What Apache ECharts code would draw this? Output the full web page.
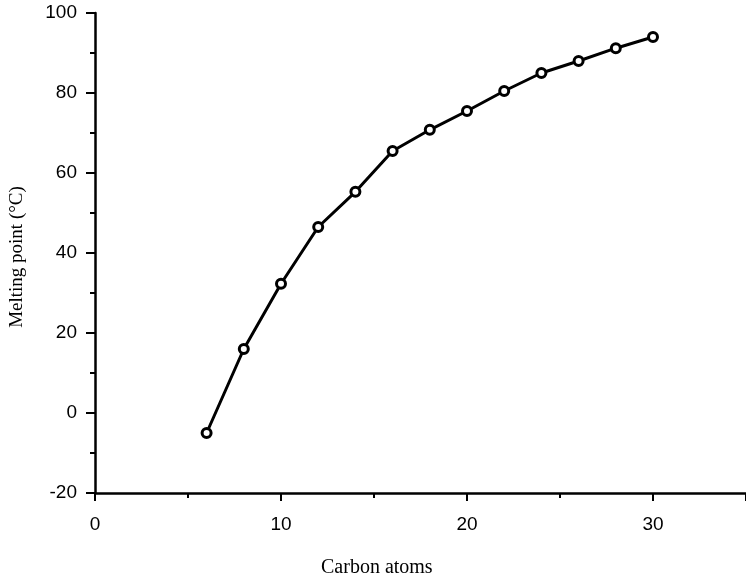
<!DOCTYPE html>
<html>
<head>
<meta charset="utf-8">
<script src="https://cdn.jsdelivr.net/npm/echarts@6/dist/echarts.min.js"></script>
<style>html,body{margin:0;padding:0;background:#fff}#c{width:746px;height:584px}</style>
</head>
<body>
<div id="c"></div>
<script>
const carbonAtoms = [6, 8, 10, 12, 14, 16, 18, 20, 22, 24, 26, 28, 30];
const meltingPoint = [-5, 16, 32.3, 46.5, 55.3, 65.5, 70.8, 75.5, 80.5, 85, 88, 91.2, 94];
const xTitle = 'Carbon atoms';
const yTitle = 'Melting point (°C)';

const chart = echarts.init(document.getElementById('c'));
const tickFont = { fontFamily: 'Liberation Sans, Arial, sans-serif', fontSize: 19, color: '#000' };
chart.setOption({
  animation: false,
  backgroundColor: '#fff',
  grid: { left: 95, right: 0, top: 13, bottom: 91, containLabel: false, outerBoundsMode: 'none' },
  xAxis: {
    type: 'value', min: 0, max: 35, interval: 10,
    axisLine: { show: true, onZero: false, lineStyle: { color: '#000', width: 2.5 } },
    axisTick: { show: true, length: 8, lineStyle: { color: '#000', width: 2 } },
    minorTick: { show: true, splitNumber: 2, length: 5, lineStyle: { color: '#000', width: 2 } },
    splitLine: { show: false },
    axisLabel: Object.assign({ margin: 22, showMaxLabel: false }, tickFont)
  },
  yAxis: {
    type: 'value', min: -20, max: 100, interval: 20,
    axisLine: { show: true, onZero: false, lineStyle: { color: '#000', width: 2.5 } },
    axisTick: { show: true, length: 9, lineStyle: { color: '#000', width: 2 } },
    minorTick: { show: true, splitNumber: 2, length: 5, lineStyle: { color: '#000', width: 2 } },
    splitLine: { show: false },
    axisLabel: Object.assign({ margin: 18 }, tickFont)
  },
  graphic: [
    { type: 'text', left: 321, top: 558, style: { text: xTitle, font: '20px "Liberation Serif", "Times New Roman", serif', fill: '#000' } },
    { type: 'text', x: 8, y: 257, rotation: Math.PI / 2, style: { text: yTitle, font: '19px "Liberation Serif", "Times New Roman", serif', fill: '#000', align: 'center', verticalAlign: 'top' } }
  ],
  series: [{
    type: 'line',
    data: carbonAtoms.map((c, i) => [c, meltingPoint[i]]),
    lineStyle: { color: '#000', width: 3 },
    symbol: 'circle', symbolSize: 9,
    itemStyle: { color: '#fff', borderColor: '#000', borderWidth: 3 }
  }]
});
</script>
</body>
</html>
